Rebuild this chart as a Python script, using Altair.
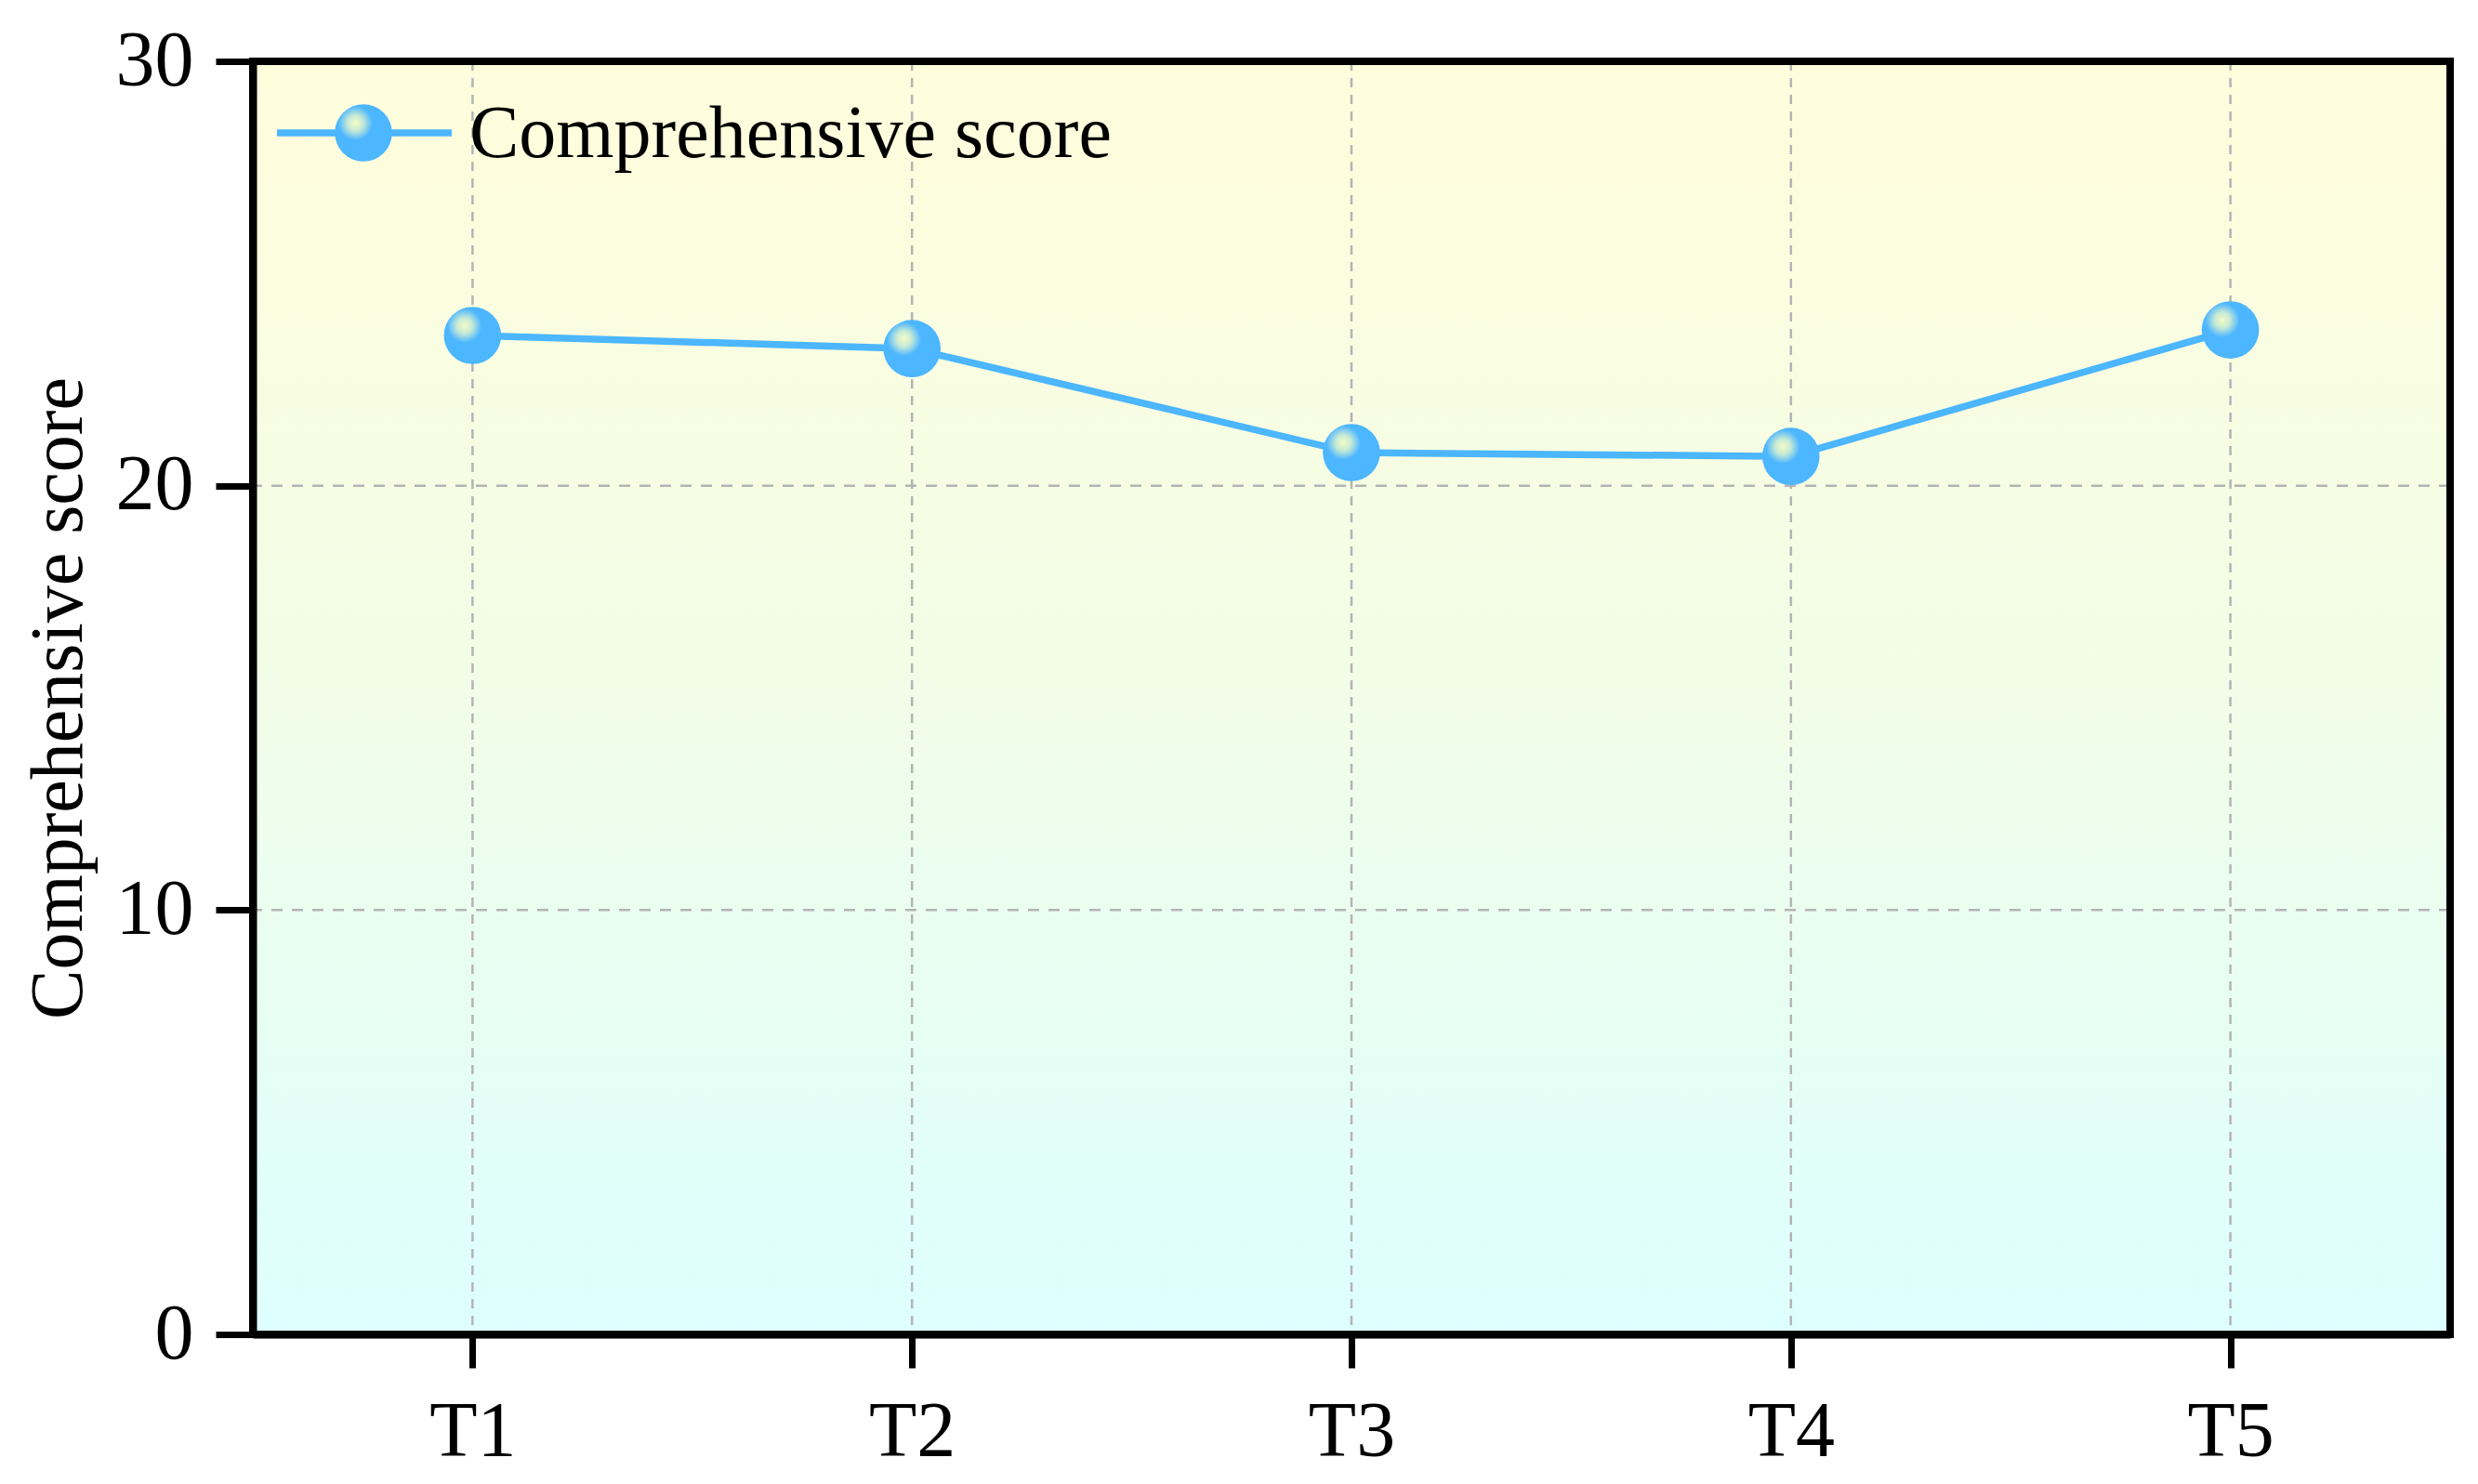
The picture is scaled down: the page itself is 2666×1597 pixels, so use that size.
import altair as alt
import pandas as pd

categories = ["T1", "T2", "T3", "T4", "T5"]
scores = [23.54, 23.23, 20.78, 20.69, 23.67]
y_ticks = [0, 10, 20, 30]
y_grid = [10, 20]
series_name = "Comprehensive score"

W, H = 2364, 1370
FONT = "Liberation Serif"
BLUE = "#4cb6ff"

df = pd.DataFrame({"cat": categories, "score": scores})
gx = pd.DataFrame({"cat": categories})
gy = pd.DataFrame({"score": y_grid})
one = pd.DataFrame({"name": [series_name]})

xscale = alt.Scale(type="point", domain=categories, padding=0.5)
yscale = alt.Scale(domain=[0, 30], nice=False, zero=True)
xaxis = alt.Axis(title=None, labelAngle=0, zindex=1)
yaxis = alt.Axis(title="Comprehensive score", values=y_ticks, zindex=1)

X = alt.X("cat:N", scale=xscale, sort=categories, axis=xaxis)
Y = alt.Y("score:Q", scale=yscale, axis=yaxis)

bg = alt.Chart(one).mark_rect(
    fill=alt.Gradient(
        gradient="linear", x1=0, x2=0, y1=0, y2=1,
        stops=[alt.GradientStop(offset=0, color="#fffddc"),
               alt.GradientStop(offset=0.45, color="#f3fde6"),
               alt.GradientStop(offset=1, color="#ddffff")]
    )
).encode(x=alt.value(0), x2=alt.value(W), y=alt.value(0), y2=alt.value(H))

grid_x = alt.Chart(gx).mark_rule(color="#b4b4b4", strokeWidth=2.5, strokeDash=[10, 8]).encode(x=X)
grid_y = alt.Chart(gy).mark_rule(color="#b4b4b4", strokeWidth=2.5, strokeDash=[12, 10]).encode(y=Y)

marker_fill = alt.Gradient(
    gradient="radial", x1=0.36, y1=0.33, r1=0, x2=0.36, y2=0.33, r2=0.3,
    stops=[alt.GradientStop(offset=0, color="#f4fbc4"),
           alt.GradientStop(offset=0.45, color="#c6ead6"),
           alt.GradientStop(offset=1, color=BLUE)]
)

line = alt.Chart(df).mark_line(color=BLUE, strokeWidth=7.5).encode(x=X, y=Y)
points = alt.Chart(df).mark_point(filled=True, fill=marker_fill, size=3800, opacity=1, strokeWidth=0).encode(x=X, y=Y)

frame = alt.Chart(one).mark_rect(fill=None, stroke="black", strokeWidth=8).encode(
    x=alt.value(0), x2=alt.value(W), y=alt.value(0), y2=alt.value(H)
)

leg_line = alt.Chart(one).mark_rule(color=BLUE, strokeWidth=7.5).encode(
    x=alt.value(26), x2=alt.value(214), y=alt.value(77)
)
leg_pt = alt.Chart(one).mark_point(filled=True, fill=marker_fill, size=3800, opacity=1, strokeWidth=0).encode(
    x=alt.value(119), y=alt.value(77)
)
leg_txt = alt.Chart(one).mark_text(align="left", baseline="middle", font=FONT, fontSize=80, color="black").encode(
    x=alt.value(233), y=alt.value(79), text="name:N"
)

chart = alt.layer(bg, grid_x, grid_y, line, points, frame, leg_line, leg_pt, leg_txt).properties(
    width=W, height=H,
    autosize=alt.AutoSizeParams(type="none"),
    padding={"left": 264, "top": 58, "right": 14, "bottom": 148},
).configure_view(stroke=None).configure_axis(
    domainColor="black", domainWidth=8, tickColor="black", tickWidth=7,
    labelFont=FONT, titleFont=FONT, labelColor="black", titleColor="black",
    grid=False, titleFontWeight="normal",
).configure_axisX(
    labelFontSize=84, tickSize=36, labelPadding=28,
).configure_axisY(
    labelFontSize=84, tickSize=40, labelPadding=24, titleFontSize=80, titlePadding=20,
)

chart.save("out.html", embed_options={"renderer": "svg", "actions": False})
